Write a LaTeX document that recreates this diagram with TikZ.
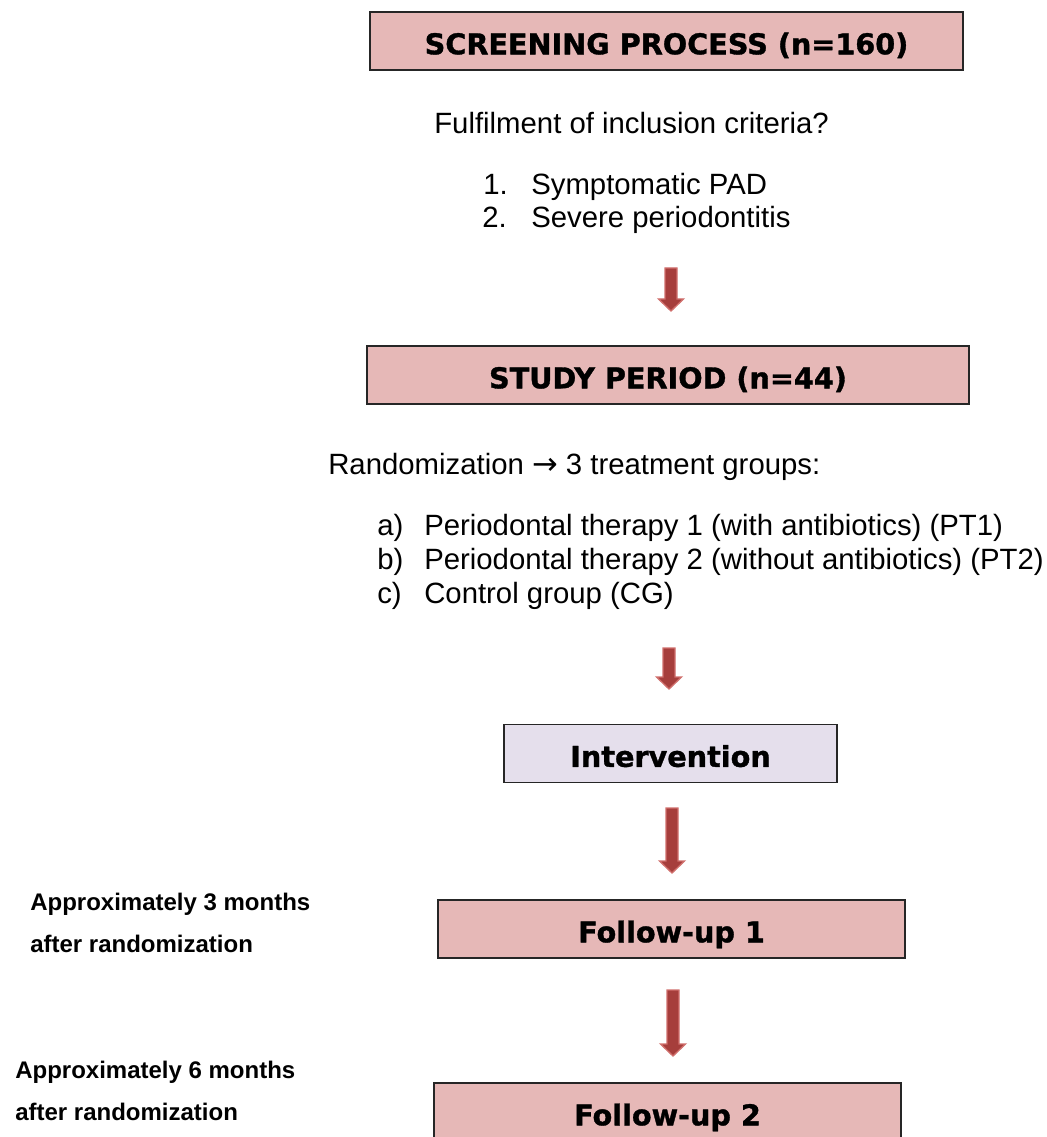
\documentclass[tikz,border=0pt]{standalone}
\usepackage{fontspec}
\usetikzlibrary{calc}
\setmainfont{Liberation Sans}
\newfontfamily\heavy{DejaVu Sans}[BoldFeatures={FakeBold=1.2}]
\newfontfamily\arrowfont{DejaVu Sans}
\definecolor{boxpink}{HTML}{E6B8B7}
\definecolor{boxlav}{HTML}{E5DFEC}
\definecolor{arrdark}{HTML}{A63E3C}
\definecolor{arrlight}{HTML}{D06F6C}
\tikzset{
  px/.style={x=0.75pt,y=-0.75pt},
  titlebox/.style={draw=black!85, line width=1.3pt, inner sep=0pt, anchor=center,
     font=\fontsize{21.5}{26}\selectfont\heavy\bfseries, text height=20pt, text depth=0pt},
  pinkbox/.style={titlebox, fill=boxpink},
  lavbox/.style={titlebox, fill=boxlav},
  body/.style={anchor=base west, inner sep=0pt, font=\fontsize{22}{26}\selectfont},
  side/.style={anchor=base west, inner sep=0pt, font=\fontsize{18}{22}\selectfont\bfseries},
  blockarrow/.style={fill=arrdark, draw=arrlight, line width=1pt, line join=miter},
}
\begin{document}
\begin{tikzpicture}[px]
\useasboundingbox (0,0) rectangle (1046,1137);
\clip (0,0) rectangle (1046,1137);
% boxes
\node[pinkbox, minimum width=593*0.75pt, minimum height=58*0.75pt] (b1) at (666.5,41) {SCREENING PROCESS (n=160)};
\node[pinkbox, minimum width=602*0.75pt, minimum height=58*0.75pt] (b2) at (668,375) {STUDY PERIOD (n=44)};
\node[lavbox, minimum width=333*0.75pt, minimum height=58*0.75pt] (b3) at (670.5,753.5) {Intervention};
\node[pinkbox, minimum width=467*0.75pt, minimum height=58*0.75pt] (b4) at (671.5,929) {Follow-up 1};
\node[pinkbox, minimum width=467*0.75pt, minimum height=58*0.75pt] (b5) at (667.5,1112) {Follow-up 2};
% texts
\node[body] (t1) at (434,134) {Fulfilment of inclusion criteria?};
\node[body] (n1) at (483,195) {1.};
\node[body] (i1) at (531,195) {Symptomatic PAD};
\node[body] (n2) at (482,228) {2.};
\node[body] (i2) at (531,228) {Severe periodontitis};
\node[body] (t2) at (328,474) {Randomization {\arrowfont\fontsize{23}{26}\selectfont →} 3 treatment groups:};
\node[body] (la) at (377,535) {a)};
\node[body] (ia) at (424,535) {Periodontal therapy 1 (with antibiotics) (PT1)};
\node[body] (lb) at (377,569) {b)};
\node[body] (ib) at (424,569) {Periodontal therapy 2 (without antibiotics) (PT2)};
\node[body] (lc) at (377,603) {c)};
\node[body] (ic) at (424,603) {Control group (CG)};
\node[side] (s1a) at (30,910) {Approximately 3 months};
\node[side] (s1b) at (30,952) {after randomization};
\node[side] (s2a) at (15,1078) {Approximately 6 months};
\node[side] (s2b) at (15,1120) {after randomization};
% block arrows
\foreach \nm/\xx/\ya/\yb in {a1/671/268/311, a2/669/648/689, a3/672/808/873, a4/673/990/1056}{
  \coordinate (\nm t) at (\xx,\ya);
  \coordinate (\nm b) at (\xx,\yb);
  \path[blockarrow] (\nm t) ++(-6,0) -- ++(12,0) |- ($(\nm b)+(12.5,-12)$) -- (\nm b) -- ($(\nm b)+(-12.5,-12)$) -| cycle;
}
\end{tikzpicture}
\end{document}
